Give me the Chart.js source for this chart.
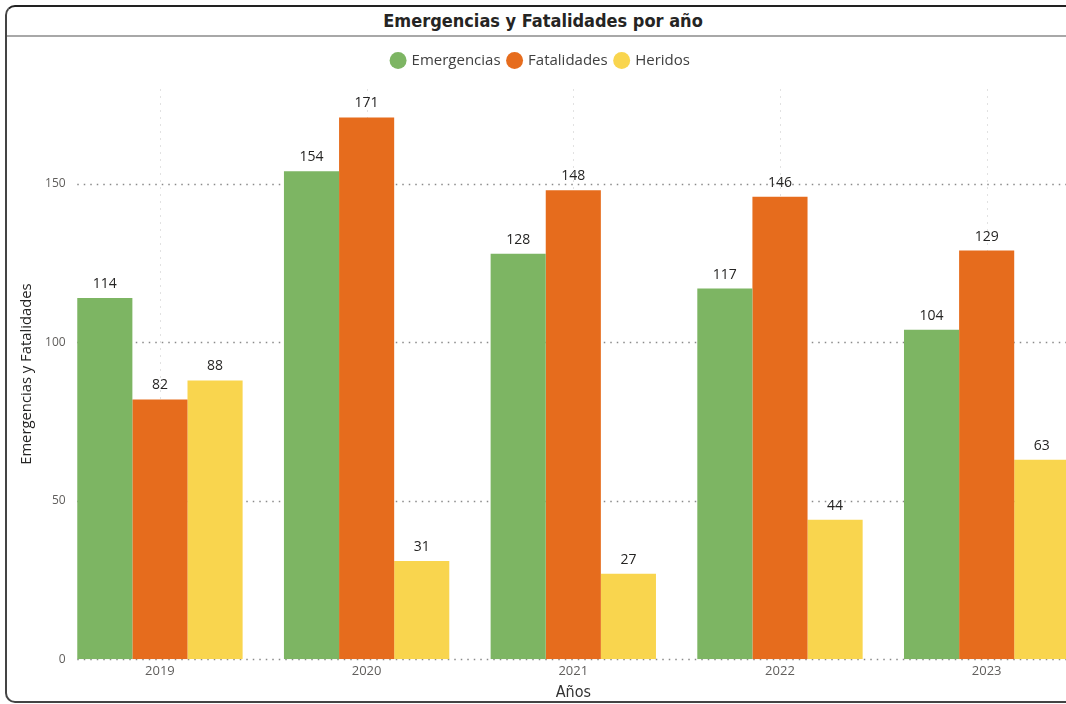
<!DOCTYPE html>
<html>
<head>
<meta charset="utf-8">
<script src="https://cdn.jsdelivr.net/npm/chart.js@4/dist/chart.umd.min.js"></script>
<style>
  html, body { margin: 0; padding: 0; background: #fff; }
  body { width: 1066px; height: 704px; overflow: hidden; position: relative; }
  #frame {
    position: absolute; left: 5px; top: 5px; width: 1200px; height: 694px;
    border-left: 2px solid #444; border-top: 2px solid #222; border-bottom: 2px solid #444;
    border-radius: 10px 0 0 10px;
  }
  #headerLine { position: absolute; left: 7px; top: 35px; width: 1100px; height: 2px; background: #a8a8a8; }
  #title {
    position: absolute; left: 0; top: 10px; width: 1086px; text-align: center;
    font: bold 18px "DejaVu Sans Condensed", "DejaVu Sans", sans-serif; color: #252423;
  }
  #chart { position: absolute; left: -20px; top: 38px; }
</style>
</head>
<body>
<div id="frame"></div>
<div id="headerLine"></div>
<div id="title">Emergencias y Fatalidades por año</div>
<canvas id="chart" width="1120" height="666"></canvas>
<script>
const years = ['2019', '2020', '2021', '2022', '2023'];
const emergencias = [114, 154, 128, 117, 104];
const fatalidades = [82, 171, 148, 146, 129];
const heridos = [88, 31, 27, 44, 63];
const yTicks = [0, 50, 100, 150];

// extra room under the legend, and nudge it to the visual's centre
const legendGap = {
  id: 'legendGap',
  beforeInit(chart) {
    const lg = chart.legend;
    const fit = lg.fit;
    lg.fit = function () {
      fit.call(this);
      this.height += 12;
    };
    const draw = lg.draw;
    lg.draw = function () {
      this.ctx.save();
      this.ctx.translate(6, 1);
      draw.call(this);
      this.ctx.restore();
    };
  }
};

// dotted grid like the original visual
const gridPlugin = {
  id: 'dotGrid',
  beforeDatasetsDraw(chart) {
    const {ctx, chartArea, scales: {x, y}} = chart;
    const firstBar = chart.getDatasetMeta(0).data[0];
    const startX = firstBar.x - firstBar.width / 2;
    ctx.save();
    ctx.strokeStyle = '#e2e2e2';
    ctx.lineWidth = 1;
    ctx.setLineDash([2, 5]);
    years.forEach((yr, i) => {
      const px = Math.round(x.getPixelForValue(i)) + 0.5;
      ctx.beginPath();
      ctx.moveTo(px, chartArea.top);
      ctx.lineTo(px, chartArea.bottom);
      ctx.stroke();
    });
    ctx.strokeStyle = '#8a8a8a';
    ctx.lineWidth = 1.5;
    ctx.setLineDash([1.5, 5]);
    yTicks.forEach(v => {
      const py = Math.round(y.getPixelForValue(v)) + 0.5;
      ctx.beginPath();
      ctx.moveTo(startX, py);
      ctx.lineTo(chartArea.right, py);
      ctx.stroke();
    });
    ctx.restore();
  },
  // y tick labels sit a little inside the plot area, so draw them here
  afterDraw(chart) {
    const {ctx, chartArea, scales: {y}} = chart;
    ctx.save();
    ctx.font = '12px "Open Sans", sans-serif';
    ctx.fillStyle = '#605E5C';
    ctx.textAlign = 'right';
    ctx.textBaseline = 'middle';
    yTicks.forEach(v => ctx.fillText(v, chartArea.left + 9, y.getPixelForValue(v)));
    ctx.restore();
  }
};

const valueLabels = {
  id: 'valueLabels',
  afterDatasetsDraw(chart) {
    const {ctx} = chart;
    ctx.save();
    ctx.font = '14px "Open Sans", sans-serif';
    ctx.fillStyle = '#252423';
    ctx.textAlign = 'center';
    ctx.textBaseline = 'bottom';
    chart.data.datasets.forEach((ds, i) => {
      chart.getDatasetMeta(i).data.forEach((bar, j) => {
        ctx.fillText(ds.data[j], bar.x, bar.y - 7);
      });
    });
    ctx.restore();
  }
};

new Chart(document.getElementById('chart'), {
  type: 'bar',
  data: {
    labels: years,
    datasets: [
      {label: 'Emergencias', data: emergencias, backgroundColor: '#7DB563'},
      {label: 'Fatalidades', data: fatalidades, backgroundColor: '#E66C1D'},
      {label: 'Heridos', data: heridos, backgroundColor: '#F9D54E'}
    ]
  },
  options: {
    responsive: false,
    animation: false,
    devicePixelRatio: 1,
    categoryPercentage: 0.8,
    barPercentage: 1,
    layout: {padding: {top: 6, right: 10, bottom: 2, left: 0}},
    plugins: {
      legend: {
        position: 'top',
        labels: {
          usePointStyle: true, pointStyle: 'circle', boxWidth: 12, boxHeight: 12,
          padding: 8, color: '#404040',
          font: {family: '"Open Sans", sans-serif', size: 15}
        }
      },
      tooltip: {enabled: false}
    },
    scales: {
      x: {
        grid: {display: false, drawTicks: false},
        border: {display: false},
        ticks: {color: '#605E5C', padding: 4, font: {family: '"Open Sans", sans-serif', size: 13}},
        title: {
          display: true, text: 'Años', color: '#333',
          font: {family: '"DejaVu Sans Condensed", "DejaVu Sans", sans-serif', size: 16},
          padding: {top: 0, bottom: 0}
        }
      },
      y: {
        min: 0, max: 180,
        afterBuildTicks(s) { s.ticks = yTicks.map(v => ({value: v})); },
        afterFit(s) { s.width = 76.6; },
        grid: {display: false, drawTicks: false},
        border: {display: false},
        ticks: {display: false},
        title: {
          display: true, text: 'Emergencias y Fatalidades', color: '#252423',
          font: {family: '"Open Sans", sans-serif', size: 14.8},
          padding: {top: 38, bottom: 0}
        }
      }
    }
  },
  plugins: [legendGap, gridPlugin, valueLabels]
});
</script>
</body>
</html>
